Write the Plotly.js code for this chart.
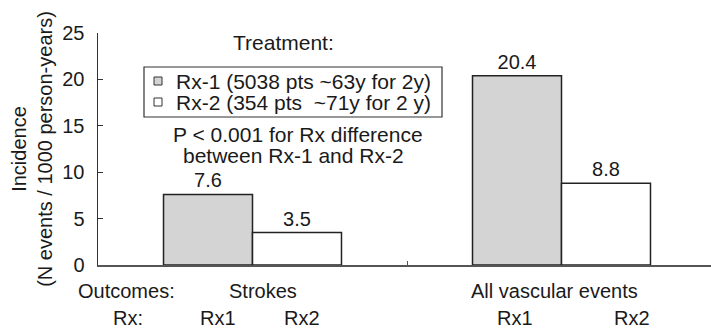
<!DOCTYPE html>
<html>
<head>
<meta charset="utf-8">
<script src="https://cdn.plot.ly/plotly-3.0.1.min.js"></script>
<style>html,body{margin:0;padding:0;background:#fff;}#chart{width:711px;height:330px;}</style>
</head>
<body>
<div id="chart"></div>
<script>
// ---- data ----
var outcomes = ["Strokes", "All vascular events"];
var rx1Values = [7.6, 20.4];
var rx2Values = [3.5, 8.8];
var seriesNames = ["Rx-1 (5038 pts ~63y for 2y)", "Rx-2 (354 pts  ~71y for 2 y)"];
var seriesColors = ["#d4d4d4", "#ffffff"];
var yTicks = [0, 5, 10, 15, 20, 25];

var W = 711, H = 330;
var L = 98, R = 0, T = 33, B = 65;
var pw = W - L - R, ph = H - T - B;
function px(x) { return (x - L) / pw; }
function py(y) { return (H - B - y) / ph; }

var FONT = "Liberation Sans, Arial, sans-serif";
var txt = "#1a1a1a";
var FS = 20;
var FS2 = 21;

var traces = [0, 1].map(function (i) {
  var vals = i === 0 ? rx1Values : rx2Values;
  return {type: "bar", name: seriesNames[i], x: outcomes, y: vals,
    text: vals.map(function (v) { return v.toFixed(1); }), textposition: "outside",
    cliponaxis: false,
    textfont: {size: FS, color: txt, family: FONT},
    marker: {color: seriesColors[i], line: {color: "#222", width: 1.5}}};
});

function ann(text, x, y, size, anchor) {
  return {text: text, xref: "paper", yref: "paper", x: px(x), y: py(y),
          xanchor: anchor || "center", yanchor: "middle", showarrow: false,
          font: {size: size || FS, color: txt, family: FONT}};
}

var annotations = [
  ann("Treatment:", 283, 42, FS2),
  ann(seriesNames[0], 174, 81, FS2, "left"),
  ann(seriesNames[1].replace("  ", "&nbsp; "), 174, 102, FS2, "left"),
  ann("P &lt; 0.001 for Rx difference", 298, 134, FS2),
  ann("between Rx-1 and Rx-2", 293, 155, FS2),
  ann("Outcomes:", 126, 291),
  ann(outcomes[0], 263, 291),
  ann(outcomes[1], 554, 291),
  ann("Rx:", 128, 318),
  ann("Rx1", 218, 318),
  ann("Rx2", 302, 318),
  ann("Rx1", 515, 318),
  ann("Rx2", 632, 318)
];

function rect(x0, y0, x1, y1, fill, lw) {
  return {type: "rect", xref: "paper", yref: "paper",
          x0: px(x0), x1: px(x1), y0: py(y1), y1: py(y0),
          fillcolor: fill, line: {color: "#333", width: lw}, layer: "above"};
}
var shapes = [
  rect(144, 67, 442, 117, "rgba(0,0,0,0)", 1.2),
  rect(154, 77, 162, 85, seriesColors[0], 1),
  rect(154, 98, 162, 106, seriesColors[1], 1)
];

var layout = {
  width: W, height: H,
  margin: {l: L, r: R, t: T, b: B, pad: 0},
  paper_bgcolor: "#fff", plot_bgcolor: "#fff",
  font: {family: FONT, color: txt, size: FS},
  barmode: "group", bargap: 0.424, bargroupgap: 0,
  showlegend: false,
  xaxis: {type: "category", range: [-0.5, -0.5 + pw / 309],
          showline: true, linecolor: "#555", linewidth: 1.5,
          ticks: "inside", ticklen: 4, tickcolor: "#555", tickson: "boundaries",
          showticklabels: false, showgrid: false, zeroline: false, fixedrange: true},
  yaxis: {range: [0, 25], tickvals: yTicks, ticktext: yTicks.map(String),
          showline: true, linecolor: "#333", linewidth: 1.5,
          ticks: "inside", ticklen: 5, tickcolor: "#333",
          ticklabelstandoff: 8,
          tickfont: {size: FS, family: FONT, color: txt},
          showgrid: false, zeroline: false,
          title: {text: "Incidence<br>(N events / 1000 person-years)",
                  font: {size: FS, family: FONT, color: txt}, standoff: 4}},
  annotations: annotations,
  shapes: shapes
};

Plotly.newPlot("chart", traces, layout, {displayModeBar: false, staticPlot: true});
</script>
</body>
</html>
